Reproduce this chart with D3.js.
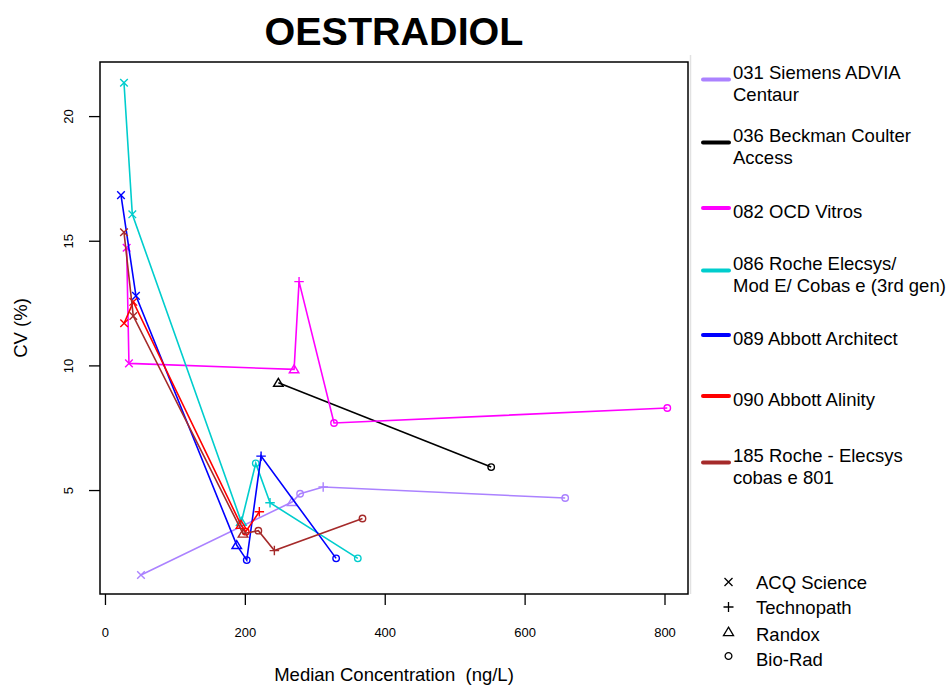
<!DOCTYPE html>
<html>
<head>
<meta charset="utf-8">
<script src="https://cdn.jsdelivr.net/npm/d3@7"></script>
<style>
  html, body { margin: 0; padding: 0; background: #fff; }
  svg { display: block; font-family: "Liberation Sans", Arial, Helvetica, sans-serif; }
</style>
</head>
<body>
<svg id="chart" width="951" height="685"></svg>
<script>
// ---------- DATA ----------
const seriesNames = [
  "031 Siemens ADVIA Centaur",
  "036 Beckman Coulter Access",
  "082 OCD Vitros",
  "086 Roche Elecsys/ Mod E/ Cobas e (3rd gen)",
  "089 Abbott Architect",
  "090 Abbott Alinity",
  "185 Roche - Elecsys cobas e 801"
];
const legendLabelLines = [
  ["031 Siemens ADVIA", "Centaur"],
  ["036 Beckman Coulter", "Access"],
  ["082 OCD Vitros"],
  ["086 Roche Elecsys/", "Mod E/ Cobas e (3rd gen)"],
  ["089 Abbott Architect"],
  ["090 Abbott Alinity"],
  ["185 Roche - Elecsys", "cobas e 801"]
];
const seriesColors = ["#AB82FF", "#000000", "#FF00FF", "#00CDCD", "#0000FF", "#FF0000", "#A52A2A"];

const materials = ["ACQ Science", "Technopath", "Randox", "Bio-Rad"];

// concentration (ng/L), CV (%), material per point
const conc031 = [51.5, 267.5, 279, 312, 658];
const cv031   = [1.59, 4.52, 4.85, 5.12, 4.68];
const mat031  = ["ACQ Science", "Randox", "Bio-Rad", "Technopath", "Bio-Rad"];

const conc036 = [247.9, 552.2];
const cv036   = [9.30, 5.92];
const mat036  = ["Randox", "Bio-Rad"];

const conc082 = [31, 34.3, 270.4, 277.5, 327.5, 804];
const cv082   = [14.72, 10.08, 9.84, 13.36, 7.69, 8.29];
const mat082  = ["ACQ Science", "ACQ Science", "Randox", "Technopath", "Bio-Rad", "Bio-Rad"];

const conc086 = [27.2, 39.1, 195, 215.6, 236, 361.5];
const cv086   = [21.34, 16.06, 3.72, 6.07, 4.49, 2.26];
const mat086  = ["ACQ Science", "ACQ Science", "Randox", "Bio-Rad", "Technopath", "Bio-Rad"];

const conc089 = [22.9, 44.3, 188.4, 202.7, 223.2, 330.5];
const cv089   = [16.83, 12.79, 2.79, 2.19, 6.36, 2.26];
const mat089  = ["ACQ Science", "ACQ Science", "Randox", "Bio-Rad", "Technopath", "Bio-Rad"];

const conc090 = [27.4, 40.5, 194.5, 201.3, 220.7];
const cv090   = [11.69, 12.55, 3.6, 3.33, 4.13];
const mat090  = ["ACQ Science", "ACQ Science", "Randox", "Bio-Rad", "Technopath"];

const conc185 = [27.2, 40.5, 197.4, 219.3, 242.2, 368.2];
const cv185   = [15.34, 11.98, 3.25, 3.37, 2.57, 3.86];
const mat185  = ["ACQ Science", "ACQ Science", "Randox", "Bio-Rad", "Technopath", "Bio-Rad"];

const xTicks = [0, 200, 400, 600, 800];
const yTicks = [5, 10, 15, 20];
const chartTitle = "OESTRADIOL";
const xTitle = "Median Concentration  (ng/L)";
const yTitle = "CV (%)";

const allConc = [conc031, conc036, conc082, conc086, conc089, conc090, conc185];
const allCv   = [cv031, cv036, cv082, cv086, cv089, cv090, cv185];
const allMat  = [mat031, mat036, mat082, mat086, mat089, mat090, mat185];

// ---------- LAYOUT ----------
const plot = { left: 100, right: 688, top: 62, bottom: 594 };
const svg = d3.select("#chart");

const x = d3.scaleLinear().domain([-7.1, 833.6]).range([plot.left, plot.right]);
const y = d3.scaleLinear().domain([0.83, 22.17]).range([plot.bottom, plot.top]);

// title
svg.append("text")
  .attr("x", (plot.left + plot.right) / 2).attr("y", 45)
  .attr("text-anchor", "middle")
  .attr("font-size", 39.5).attr("font-weight", "bold")
  .text(chartTitle);

// axes
const gx = svg.append("g").attr("transform", `translate(0,${plot.bottom})`)
  .call(d3.axisBottom(x).tickValues(xTicks).tickSize(11).tickPadding(23).tickFormat(d3.format("d")));
gx.select(".domain").remove();
gx.selectAll("line").attr("stroke", "#000").attr("stroke-width", 1.3);
gx.selectAll("text").attr("font-size", 13).attr("fill", "#000")
  .attr("font-family", "Liberation Sans, Arial, sans-serif");

const gy = svg.append("g").attr("transform", `translate(${plot.left},0)`)
  .call(d3.axisLeft(y).tickValues(yTicks).tickSize(11).tickFormat(d3.format("d")));
gy.select(".domain").remove();
gy.selectAll("line").attr("stroke", "#000").attr("stroke-width", 1.3);
gy.selectAll("text")
  .attr("x", 0).attr("dy", 0)
  .attr("text-anchor", "middle")
  .attr("transform", "translate(-27,0) rotate(-90)")
  .attr("font-size", 13).attr("fill", "#000")
  .attr("font-family", "Liberation Sans, Arial, sans-serif");

// axis titles
svg.append("text")
  .attr("x", (plot.left + plot.right) / 2).attr("y", 681)
  .attr("text-anchor", "middle").attr("font-size", 18.5)
  .style("white-space", "pre")
  .text(xTitle);
svg.append("text")
  .attr("transform", `translate(26.5,${(plot.top + plot.bottom) / 2}) rotate(-90)`)
  .attr("text-anchor", "middle").attr("font-size", 18.5)
  .text(yTitle);

// clip
svg.append("clipPath").attr("id", "clip").append("rect")
  .attr("x", plot.left).attr("y", plot.top)
  .attr("width", plot.right - plot.left).attr("height", plot.bottom - plot.top);

// marker paths
function markerPath(m, s) {
  if (m === "ACQ Science") return `M${-s},${-s}L${s},${s}M${-s},${s}L${s},${-s}`;
  if (m === "Technopath") { const t = s * 1.25; return `M${-t},0L${t},0M0,${-t}L0,${t}`; }
  if (m === "Randox") { const t = s * 1.2; return `M0,${-t}L${t * 1.05},${t * 0.75}L${-t * 1.05},${t * 0.75}Z`; }
  const r = s * 0.85;
  return `M${r},0A${r},${r} 0 1,1 ${-r},0A${r},${r} 0 1,1 ${r},0Z`;
}

const gData = svg.append("g").attr("clip-path", "url(#clip)");
const line = d3.line().x(d => x(d.c)).y(d => y(d.v));

seriesNames.forEach((name, i) => {
  const pts = allConc[i].map((c, j) => ({ c, v: allCv[i][j], m: allMat[i][j] }))
    .sort((a, b) => a.c - b.c);
  const g = gData.append("g");
  g.append("path").datum(pts).attr("d", line)
    .attr("fill", "none").attr("stroke", seriesColors[i]).attr("stroke-width", 1.6);
  g.selectAll("path.mk").data(pts).join("path").attr("class", "mk")
    .attr("transform", d => `translate(${x(d.c)},${y(d.v)})`)
    .attr("d", d => markerPath(d.m, 3.8))
    .attr("fill", "none").attr("stroke", seriesColors[i]).attr("stroke-width", 1.4);
});

// plot box
svg.append("rect")
  .attr("x", plot.left).attr("y", plot.top)
  .attr("width", plot.right - plot.left).attr("height", plot.bottom - plot.top)
  .attr("fill", "none").attr("stroke", "#000").attr("stroke-width", 1.5);

// legend border (faint)
svg.append("line").attr("x1", 690.5).attr("x2", 690.5).attr("y1", 55).attr("y2", 594)
  .attr("stroke", "#e2e2e2").attr("stroke-width", 1.5);

// series legend
const legendTop = [72, 135, 211, 263, 338, 399, 455];
const lgd = svg.append("g");
legendLabelLines.forEach((lines, i) => {
  const y0 = legendTop[i];
  const ly = lines.length > 1 ? y0 + 7.5 : y0 - 3;
  lgd.append("line").attr("x1", 703).attr("x2", 729).attr("y1", ly).attr("y2", ly)
    .attr("stroke", seriesColors[i]).attr("stroke-width", 4).attr("stroke-linecap", "round");
  lines.forEach((t, k) => {
    lgd.append("text").attr("x", 733).attr("y", y0 + k * 22.7 + 6.5)
      .attr("font-size", 18.5).attr("fill", "#000").text(t);
  });
});

// material legend
const matY = [582, 607, 632, 656];
const mlg = svg.append("g");
materials.forEach((m, i) => {
  mlg.append("path").attr("transform", `translate(728.5,${matY[i]})`)
    .attr("d", markerPath(m, 4))
    .attr("fill", "none").attr("stroke", "#000").attr("stroke-width", 1.3);
  mlg.append("text").attr("x", 756).attr("y", [582, 607, 634, 659][i] + 6.5)
    .attr("font-size", 18.5).attr("fill", "#000").text(m);
});
</script>
</body>
</html>
